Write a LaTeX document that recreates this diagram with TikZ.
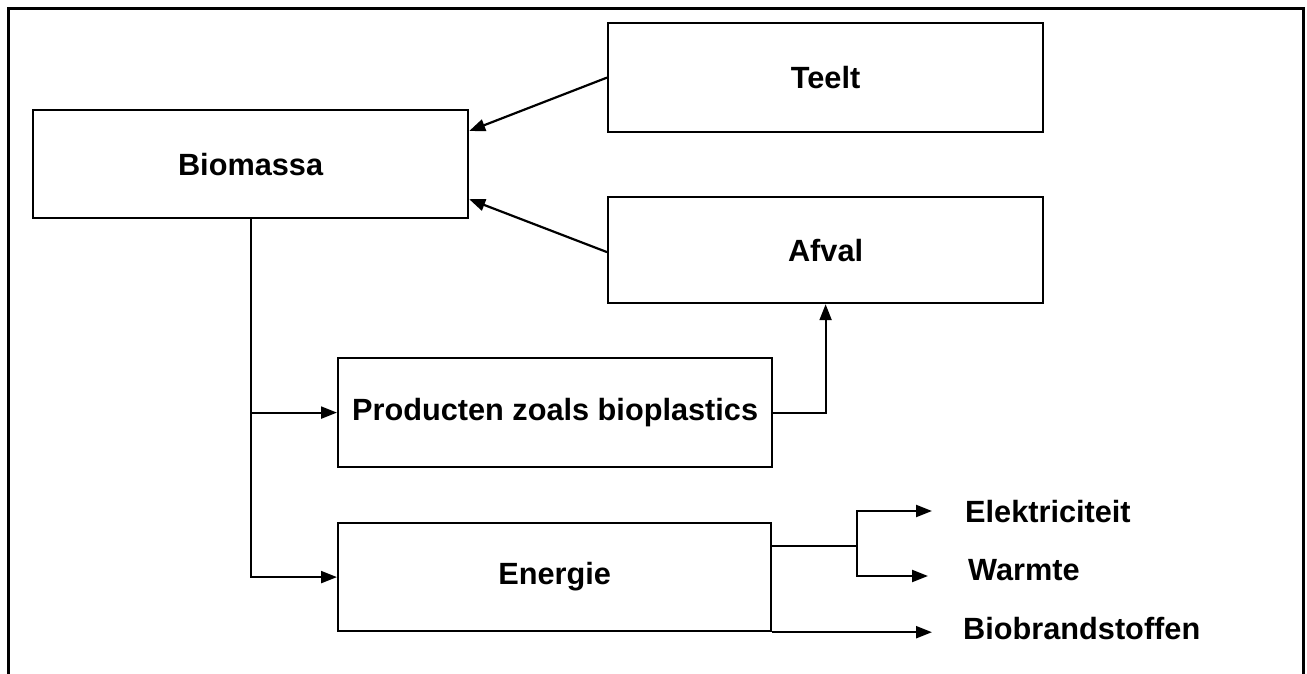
\documentclass[tikz,border=0pt]{standalone}
\usepackage{fontspec}
\setmainfont{Liberation Sans}
\usetikzlibrary{arrows.meta,calc}
\begin{document}
\begin{tikzpicture}[x=1pt,y=-1pt,
  box/.style={draw,line width=2.2pt,rectangle,inner sep=0pt,anchor=north west,
    font=\bfseries\fontsize{30.7}{36}\selectfont},
  lbl/.style={inner sep=0pt,anchor=base west,font=\bfseries\fontsize{30.7}{36}\selectfont},
  conn/.style={line width=2.2pt},
  arr/.style={conn,-{Triangle[length=16pt,width=12pt]}}]
\useasboundingbox (0,0) rectangle (1307,673);
\clip (0,0) rectangle (1307,673);
\fill[white] (0,0) rectangle (1307,673);
% outer frame
\draw[line width=3pt] (8,8) rectangle (1303,700);
% boxes
\node[box,minimum width=435pt,minimum height=108pt] (bio) at (32,109) {Biomassa};
\node[box,minimum width=435pt,minimum height=109pt] (teelt) at (607,22) {Teelt};
\node[box,minimum width=435pt,minimum height=106pt] (afval) at (607,196) {Afval};
\node[box,minimum width=434pt,minimum height=109pt] (prod) at (337,357) {Producten zoals bioplastics};
\node[box,minimum width=433pt,minimum height=108pt] (energie) at (337,522) {Energie};
% labels
\node[lbl] (elek) at (965,522) {Elektriciteit};
\node[lbl] (warm) at (968,580) {Warmte};
\node[lbl] (biob) at (963,639) {Biobrandstoffen};
% coordinates
\coordinate (b1) at ($(bio.north east)+(0,22)$);
\coordinate (b2) at ($(bio.south east)+(0,-20)$);
\coordinate (eout) at ($(energie.north east)+(0,24)$);
\coordinate (split) at (857,546);
\coordinate (e1) at (932,511);
\coordinate (e2) at (928,576);
\coordinate (e3) at (932,630);
% connectors
\draw[arr] (teelt.west) -- (b1);
\draw[arr] ($(afval.west)+(0,2)$) -- (b2);
\draw[arr] (bio.south) |- (energie.west);
\draw[arr] (bio.south |- prod.west) -- (prod.west);
\draw[arr] (prod.east) -| (afval.south);
\draw[conn] (eout) -- (split);
\draw[arr] (split) |- (e1);
\draw[arr] (split) |- (e2);
\draw[arr] (energie.south east) -- (energie.south east -| e3);
\end{tikzpicture}
\end{document}
